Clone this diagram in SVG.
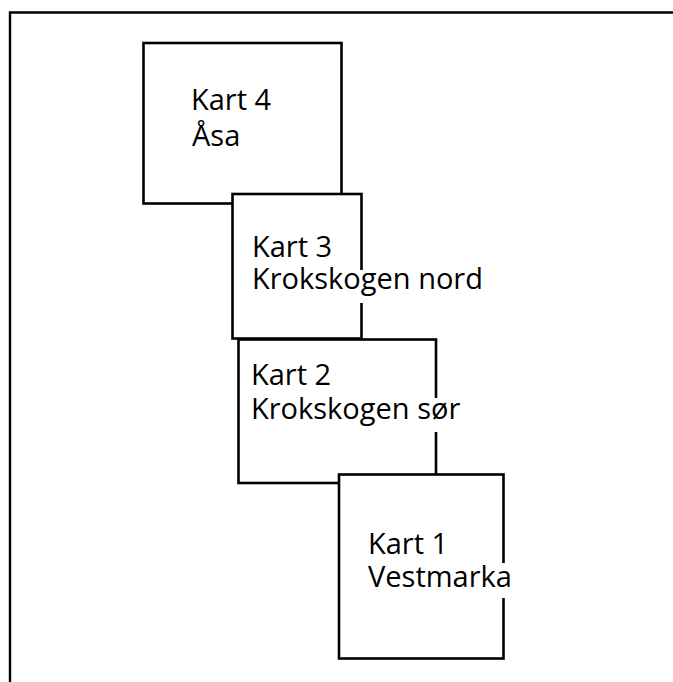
<svg xmlns="http://www.w3.org/2000/svg" width="673" height="682" viewBox="0 0 673 682">
  <style>
    .frame { fill: none; stroke: #000; stroke-width: 2.4; }
    .sheet { fill: #fff; stroke: #000; stroke-width: 2.6; }
    .knock { fill: #fff; stroke: none; }
    .lbl { font-family: "Open Sans", "Noto Sans", "Liberation Sans", sans-serif; font-size: 29px; fill: #000; }
  </style>
  <rect width="673" height="682" fill="#fff"/>
  <!-- open frame: top and left sides only -->
  <path class="frame" d="M10 684 V12.5 H675"/>

  <g id="kart4">
    <rect class="sheet" x="143.5" y="43" width="198" height="160.5"/>
    <text class="lbl" x="191" y="110">Kart 4</text>
    <text class="lbl" x="192" y="146">Åsa</text>
  </g>

  <g id="kart3">
    <rect class="sheet" x="232.5" y="194" width="129" height="144.5"/>
    <rect class="knock" x="355" y="270" width="14" height="33"/>
    <text class="lbl" x="252" y="256.5">Kart 3</text>
    <text class="lbl" x="252" y="289">Krokskogen nord</text>
  </g>

  <g id="kart2">
    <rect class="sheet" x="238.5" y="339.5" width="197.5" height="143.5"/>
    <rect class="knock" x="430" y="398" width="14" height="34"/>
    <text class="lbl" x="251" y="385">Kart 2</text>
    <text class="lbl" x="251" y="418.5">Krokskogen sør</text>
  </g>

  <g id="kart1">
    <rect class="sheet" x="339" y="474.5" width="164.5" height="184"/>
    <rect class="knock" x="497" y="563" width="14" height="35"/>
    <text class="lbl" x="368" y="553.5">Kart 1</text>
    <text class="lbl" x="368" y="587">Vestmarka</text>
  </g>
</svg>
